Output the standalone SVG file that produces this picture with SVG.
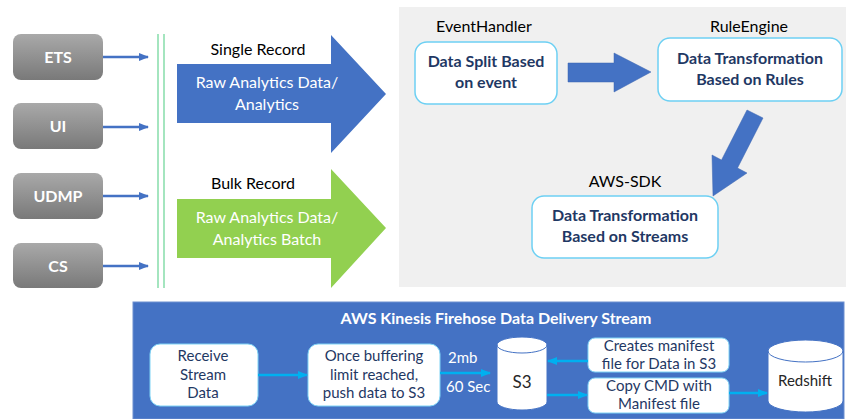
<svg xmlns="http://www.w3.org/2000/svg" width="846" height="419" viewBox="0 0 846 419">
<defs>
<linearGradient id="gsrc" x1="0" y1="0" x2="0" y2="1">
<stop offset="0" stop-color="#a9a9a9"/>
<stop offset="1" stop-color="#797979"/>
</linearGradient>
<marker id="mb" markerWidth="10" markerHeight="8" refX="9" refY="4" orient="auto" markerUnits="userSpaceOnUse">
<path d="M0,0 L10,4 L0,8 Z" fill="#4472c4"/>
</marker>
<marker id="mc" markerWidth="10" markerHeight="8" refX="9" refY="4" orient="auto" markerUnits="userSpaceOnUse">
<path d="M0,0 L10,4 L0,8 Z" fill="#00b0f0"/>
</marker>
</defs>
<style>
text{font-family:Lato,"Liberation Sans",sans-serif;}
.src rect{fill:url(#gsrc);}
.src text{fill:#fff;font-weight:bold;font-size:16px;text-anchor:middle;}
.lbl{fill:#000;font-size:16px;text-anchor:middle;}
.wt{fill:#fff;font-size:16px;text-anchor:middle;}
.proc rect{fill:#fff;stroke:#6dd0f3;stroke-width:1.5;}
.proc text{fill:#1f3864;font-weight:bold;font-size:16px;text-anchor:middle;}
.proc text.lbl{font-weight:normal;fill:#000;}
.fh rect{fill:#fff;stroke:#7fd3f5;stroke-width:1;}
.fh text{fill:#1f3864;font-size:15px;text-anchor:middle;}
.cyl{fill:#fff;stroke:#4472c4;stroke-width:1;}
.cyt{fill:#262626;font-weight:normal;text-anchor:middle;}
.bl{stroke:#4472c4;stroke-width:2.5;fill:none;}
.cl{stroke:#00b0f0;stroke-width:2.5;fill:none;}
</style>

<rect x="399" y="7" width="447" height="280" fill="#f0f0f0"/>
<rect x="133" y="302" width="711" height="117" fill="#4472c4" stroke="#6d8fd0" stroke-width="1"/>

<g id="ets" class="src"><rect x="13" y="34" width="90" height="46" rx="8"/><text x="58" y="63">ETS</text></g>
<g id="ui" class="src"><rect x="13" y="103" width="90" height="46" rx="8"/><text x="58" y="132">UI</text></g>
<g id="udmp" class="src"><rect x="13" y="173" width="90" height="46" rx="8"/><text x="58" y="202">UDMP</text></g>
<g id="cs" class="src"><rect x="13" y="243" width="90" height="45" rx="8"/><text x="58" y="272">CS</text></g>

<g id="bus"><line x1="158" y1="34" x2="158" y2="288" stroke="#86dcaa" stroke-width="1.5"/><line x1="164" y1="34" x2="164" y2="288" stroke="#86dcaa" stroke-width="1.5"/></g>

<g id="single-record">
<polygon points="177,64 331,64 331,35 386,94 331,153 331,123 177,123" fill="#4472c4"/>
<text class="lbl" x="258" y="55">Single Record</text>
<text class="wt" x="267" y="88">Raw Analytics Data/</text>
<text class="wt" x="267" y="110">Analytics</text>
</g>
<g id="bulk-record">
<polygon points="177,199 331,199 331,169 386,228 331,288 331,258 177,258" fill="#92d050"/>
<text class="lbl" x="253" y="189">Bulk Record</text>
<text class="wt" x="267" y="223">Raw Analytics Data/</text>
<text class="wt" x="267" y="245">Analytics Batch</text>
</g>

<g id="eventhandler" class="proc">
<text class="lbl" x="484" y="32">EventHandler</text>
<rect x="415" y="42" width="142" height="62" rx="12"/>
<text x="486" y="67">Data Split Based</text>
<text x="486" y="88">on event</text>
</g>
<g id="ruleengine" class="proc">
<text class="lbl" x="749" y="32">RuleEngine</text>
<rect x="658" y="38" width="184" height="63" rx="12"/>
<text x="750" y="64">Data Transformation</text>
<text x="750" y="85">Based on Rules</text>
</g>
<g id="awssdk" class="proc">
<text class="lbl" x="625" y="187">AWS-SDK</text>
<rect x="532" y="196" width="186" height="62" rx="12"/>
<text x="625" y="221">Data Transformation</text>
<text x="625" y="242">Based on Streams</text>
</g>

<g id="firehose">
<text x="496" y="324" fill="#fff" font-weight="bold" font-size="16" text-anchor="middle">AWS Kinesis Firehose Data Delivery Stream</text>
</g>
<g id="receive" class="fh"><rect x="150" y="344" width="108" height="62" rx="10"/><text x="203" y="361">Receive</text><text x="203" y="380">Stream</text><text x="203" y="398">Data</text></g>
<g id="buffer" class="fh"><rect x="308" y="344" width="132" height="62" rx="10"/><text x="374" y="361">Once buffering</text><text x="374" y="380">limit reached,</text><text x="374" y="398">push data to S3</text></g>
<g id="s3">
<path class="cyl" d="M497,345 V402 A25,8 0 0 0 547,402 V345 A25,8 0 0 0 497,345 A25,8 0 0 0 547,345"/>
<text class="cyt" x="522" y="388" font-size="17">S3</text>
</g>
<g id="manifest" class="fh"><rect x="588" y="338" width="141" height="34" rx="7"/><text x="659" y="351">Creates manifest</text><text x="659" y="369">file for Data in S3</text></g>
<g id="copy" class="fh"><rect x="588" y="378" width="141" height="35" rx="7"/><text x="659" y="391">Copy CMD with</text><text x="659" y="409">Manifest file</text></g>
<g id="redshift">
<path class="cyl" d="M768,351 V401 A37.5,11 0 0 0 843,401 V351 A37.5,11 0 0 0 768,351 A37.5,11 0 0 0 843,351"/>
<text class="cyt" x="805" y="386" font-size="15">Redshift</text>
</g>

<g id="connectors">
<line class="bl" x1="103" y1="57" x2="148" y2="57" marker-end="url(#mb)"/>
<line class="bl" x1="103" y1="127" x2="148" y2="127" marker-end="url(#mb)"/>
<line class="bl" x1="103" y1="196" x2="148" y2="196" marker-end="url(#mb)"/>
<line class="bl" x1="103" y1="266" x2="148" y2="266" marker-end="url(#mb)"/>
<polygon points="568,63 614,63 614,53 651,72 614,92 614,82 568,82" fill="#4472c4" stroke="#3a64b0" stroke-width="0.5"/>
<polygon points="747,110 763,118 737.5,168 747,173 713,196 712,155 721.5,160" fill="#4472c4" stroke="#3a64b0" stroke-width="0.5"/>
<line class="cl" x1="258" y1="375" x2="307" y2="375" marker-end="url(#mc)"/>
<line class="cl" x1="440" y1="373" x2="490" y2="373" marker-end="url(#mc)"/>
<text x="448" y="363" fill="#fff" font-size="15">2mb</text>
<text x="446" y="392" fill="#fff" font-size="15">60 Sec</text>
<line class="cl" x1="588" y1="361" x2="548" y2="361" marker-end="url(#mc)"/>
<line class="cl" x1="547" y1="395" x2="587" y2="395" marker-end="url(#mc)"/>
<line class="cl" x1="729" y1="393" x2="767" y2="393" marker-end="url(#mc)"/>
</g>
</svg>
